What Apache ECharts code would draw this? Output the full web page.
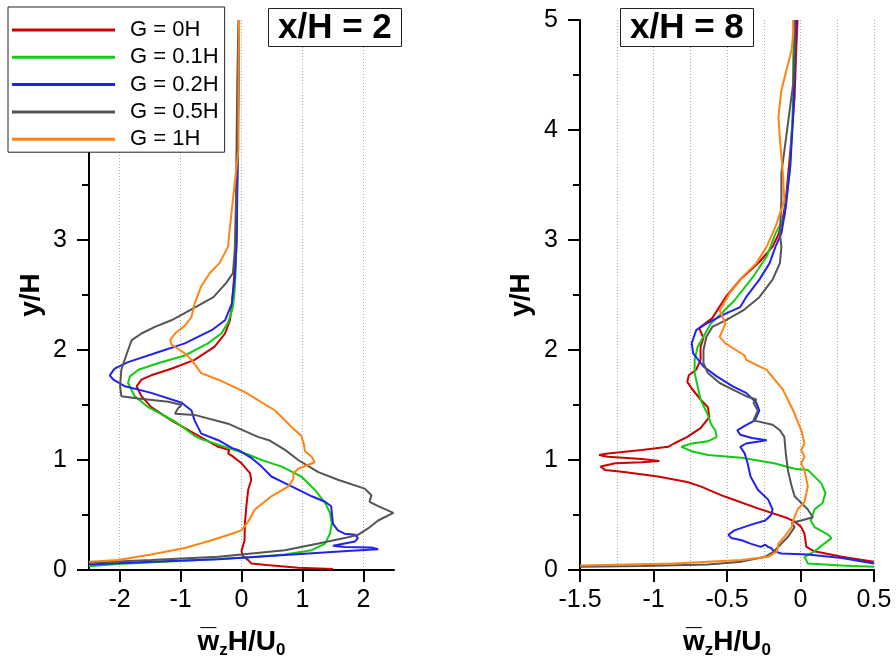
<!DOCTYPE html>
<html>
<head>
<meta charset="utf-8">
<script src="https://cdn.jsdelivr.net/npm/echarts@6/dist/echarts.min.js"></script>
<style>html,body{margin:0;padding:0;background:#fff}#c{width:896px;height:666px}</style>
</head>
<body>
<div id="c"></div>
<script>
// ---- data ----
const seriesNames = ['G = 0H', 'G = 0.1H', 'G = 0.2H', 'G = 0.5H', 'G = 1H'];
const panelTitles = ['x/H = 2', 'x/H = 8'];
const xTicksLeft = [-2, -1, 0, 1, 2];

// x/H = 2 panel : [w_z H/U0, y/H]
const L_G0 = [[1.5,0.01],[0.93,0.02],[0.41,0.045],[0.16,0.06],[0.11,0.09],[0.02,0.13],[0.0,0.17],[0.05,0.27],[0.055,0.42],[0.08,0.58],[0.11,0.73],[0.16,0.82],[0.14,0.88],[0.0,0.97],[-0.16,1.04],[-0.22,1.06],[-0.2,1.09],[-0.38,1.12],[-0.77,1.24],[-1.15,1.36],[-1.48,1.48],[-1.64,1.58],[-1.72,1.67],[-1.64,1.73],[-1.48,1.77],[-1.15,1.83],[-0.77,1.91],[-0.44,2.03],[-0.27,2.15],[-0.19,2.27],[-0.16,2.39],[-0.13,2.6],[-0.09,2.9],[-0.08,3.2],[-0.07,3.6],[-0.06,4.0],[-0.05,4.5],[-0.04,5.0]];
const L_G01 = [[-2.5,0.035],[-2.02,0.055],[-0.93,0.085],[0.16,0.115],[0.71,0.14],[1.15,0.18],[1.37,0.24],[1.45,0.33],[1.48,0.42],[1.45,0.52],[1.37,0.61],[1.2,0.73],[0.98,0.85],[0.66,0.94],[0.33,1.0],[0.11,1.05],[-0.11,1.09],[-0.38,1.14],[-0.66,1.19],[-0.77,1.22],[-1.09,1.35],[-1.53,1.48],[-1.75,1.58],[-1.86,1.7],[-1.83,1.76],[-1.69,1.82],[-1.37,1.88],[-0.93,1.95],[-0.55,2.06],[-0.33,2.15],[-0.22,2.25],[-0.14,2.39],[-0.11,2.55],[-0.09,2.82],[-0.08,3.2],[-0.07,3.6],[-0.06,4.0],[-0.05,4.5],[-0.04,5.0]];
const L_G02 = [[-2.5,0.05],[-1.48,0.076],[-0.38,0.097],[0.71,0.136],[1.8,0.176],[2.24,0.188],[2.13,0.205],[1.69,0.21],[1.5,0.22],[1.52,0.236],[1.86,0.26],[1.91,0.29],[1.86,0.32],[1.69,0.33],[1.58,0.36],[1.5,0.42],[1.48,0.52],[1.47,0.58],[1.37,0.62],[1.15,0.67],[0.93,0.73],[0.71,0.79],[0.49,0.85],[0.33,0.94],[0.16,1.02],[-0.05,1.09],[-0.16,1.11],[-0.38,1.18],[-0.66,1.24],[-0.77,1.36],[-0.82,1.45],[-0.98,1.52],[-1.48,1.61],[-1.91,1.67],[-2.1,1.73],[-2.16,1.77],[-2.08,1.83],[-1.86,1.89],[-1.37,1.98],[-0.93,2.06],[-0.49,2.18],[-0.27,2.27],[-0.16,2.42],[-0.11,2.67],[-0.08,2.97],[-0.07,3.4],[-0.06,3.8],[-0.05,4.3],[-0.04,5.0]];
const L_G05 = [[-2.5,0.067],[-1.48,0.09],[-0.38,0.12],[0.71,0.18],[1.26,0.24],[1.69,0.29],[1.91,0.32],[2.08,0.38],[2.24,0.45],[2.49,0.52],[2.24,0.58],[2.1,0.62],[2.13,0.68],[2.02,0.74],[1.58,0.82],[1.26,0.89],[0.93,1.0],[0.72,1.09],[0.45,1.18],[0.27,1.21],[-0.22,1.33],[-0.77,1.41],[-1.09,1.42],[-1.04,1.47],[-0.98,1.5],[-1.2,1.53],[-1.69,1.56],[-1.97,1.58],[-1.99,1.67],[-1.97,1.82],[-1.86,2.0],[-1.8,2.09],[-1.64,2.15],[-1.42,2.21],[-1.15,2.27],[-0.85,2.36],[-0.46,2.48],[-0.25,2.61],[-0.14,2.7],[-0.11,2.91],[-0.09,3.4],[-0.08,3.9],[-0.07,4.4],[-0.05,5.0]];
const L_G1 = [[-2.5,0.076],[-2.02,0.09],[-1.48,0.14],[-0.93,0.2],[-0.49,0.27],[-0.16,0.33],[0.0,0.36],[0.11,0.44],[0.22,0.55],[0.49,0.67],[0.77,0.76],[0.85,0.83],[0.85,0.88],[0.93,0.92],[1.2,0.98],[1.15,1.03],[1.04,1.08],[1.02,1.15],[0.98,1.22],[0.82,1.3],[0.55,1.45],[0.05,1.62],[-0.38,1.73],[-0.66,1.79],[-0.82,1.91],[-0.93,1.97],[-1.15,2.05],[-1.17,2.09],[-1.09,2.15],[-0.93,2.22],[-0.82,2.3],[-0.77,2.42],[-0.66,2.58],[-0.52,2.7],[-0.36,2.79],[-0.22,2.94],[-0.2,3.06],[-0.16,3.27],[-0.11,3.52],[-0.05,3.82],[-0.05,4.3],[-0.04,5.0]];

// x/H = 8 panel
const R_G0 = [[0.5,0.076],[0.28,0.12],[0.095,0.17],[0.04,0.21],[0.027,0.33],[0.005,0.39],[-0.04,0.44],[-0.086,0.47],[-0.29,0.56],[-0.52,0.67],[-0.68,0.76],[-0.77,0.8],[-0.97,0.85],[-1.2,0.89],[-1.33,0.91],[-1.36,0.94],[-1.26,0.97],[-1.08,0.98],[-0.96,0.99],[-1.08,1.01],[-1.31,1.03],[-1.37,1.045],[-1.31,1.06],[-1.08,1.09],[-0.9,1.12],[-0.86,1.15],[-0.77,1.21],[-0.68,1.29],[-0.62,1.39],[-0.63,1.48],[-0.68,1.55],[-0.74,1.65],[-0.77,1.71],[-0.76,1.77],[-0.71,1.82],[-0.68,1.91],[-0.68,2.03],[-0.66,2.11],[-0.69,2.2],[-0.6,2.29],[-0.51,2.48],[-0.41,2.64],[-0.28,2.8],[-0.19,2.94],[-0.15,3.05],[-0.12,3.2],[-0.1,3.36],[-0.07,3.8],[-0.04,4.3],[-0.03,4.7],[-0.02,5.0]];
const R_G01 = [[0.5,0.03],[0.28,0.04],[0.05,0.06],[0.027,0.12],[0.095,0.17],[0.21,0.29],[0.19,0.32],[0.095,0.39],[0.07,0.45],[0.095,0.55],[0.15,0.61],[0.17,0.7],[0.14,0.79],[0.05,0.91],[-0.04,0.92],[-0.18,0.97],[-0.4,1.02],[-0.63,1.045],[-0.74,1.08],[-0.81,1.12],[-0.74,1.15],[-0.63,1.17],[-0.57,1.21],[-0.58,1.27],[-0.61,1.33],[-0.63,1.41],[-0.68,1.55],[-0.7,1.67],[-0.72,1.79],[-0.72,1.91],[-0.7,2.03],[-0.66,2.12],[-0.61,2.24],[-0.54,2.33],[-0.45,2.45],[-0.32,2.67],[-0.23,2.85],[-0.17,3.06],[-0.11,3.21],[-0.07,3.67],[-0.05,4.27],[-0.05,4.64],[-0.04,5.0]];
const R_G02 = [[0.5,0.06],[0.28,0.11],[0.05,0.14],[-0.13,0.15],[-0.18,0.17],[-0.2,0.2],[-0.22,0.21],[-0.24,0.23],[-0.27,0.21],[-0.34,0.24],[-0.4,0.27],[-0.47,0.29],[-0.49,0.32],[-0.45,0.36],[-0.34,0.41],[-0.24,0.45],[-0.2,0.5],[-0.19,0.55],[-0.22,0.64],[-0.29,0.73],[-0.34,0.85],[-0.36,0.97],[-0.38,1.06],[-0.41,1.12],[-0.37,1.15],[-0.23,1.18],[-0.33,1.2],[-0.41,1.23],[-0.43,1.27],[-0.38,1.31],[-0.31,1.36],[-0.28,1.45],[-0.3,1.52],[-0.37,1.61],[-0.46,1.67],[-0.57,1.76],[-0.66,1.85],[-0.73,1.97],[-0.74,2.06],[-0.71,2.18],[-0.64,2.24],[-0.51,2.33],[-0.41,2.39],[-0.37,2.48],[-0.28,2.64],[-0.21,2.79],[-0.17,2.94],[-0.13,3.06],[-0.1,3.3],[-0.07,3.67],[-0.05,4.12],[-0.04,4.58],[-0.03,5.0]];
const R_G05 = [[-1.5,0.03],[-1.08,0.036],[-0.63,0.05],[-0.4,0.076],[-0.24,0.12],[-0.18,0.17],[-0.13,0.24],[-0.086,0.3],[-0.04,0.39],[-0.06,0.43],[0.005,0.45],[0.084,0.48],[0.05,0.55],[0.005,0.61],[-0.04,0.67],[-0.06,0.76],[-0.086,0.91],[-0.1,1.06],[-0.11,1.21],[-0.14,1.27],[-0.19,1.32],[-0.32,1.36],[-0.29,1.45],[-0.32,1.52],[-0.3,1.55],[-0.37,1.58],[-0.46,1.64],[-0.55,1.7],[-0.63,1.79],[-0.66,1.88],[-0.66,2.0],[-0.64,2.12],[-0.6,2.21],[-0.51,2.27],[-0.39,2.36],[-0.28,2.48],[-0.19,2.64],[-0.14,2.79],[-0.13,2.94],[-0.14,3.06],[-0.13,3.36],[-0.13,3.61],[-0.1,3.91],[-0.05,4.42],[-0.04,4.73],[-0.04,5.0]];
const R_G1 = [[-1.5,0.04],[-0.86,0.06],[-0.4,0.09],[-0.22,0.12],[-0.16,0.17],[-0.15,0.24],[-0.11,0.3],[-0.06,0.39],[-0.05,0.45],[-0.02,0.55],[0.027,0.62],[0.05,0.76],[0.027,0.91],[0.005,0.97],[0.027,1.03],[0.005,1.09],[0.027,1.15],[0.005,1.27],[-0.05,1.45],[-0.12,1.64],[-0.23,1.82],[-0.37,1.91],[-0.38,1.95],[-0.44,2.0],[-0.51,2.06],[-0.55,2.12],[-0.53,2.18],[-0.51,2.24],[-0.53,2.3],[-0.55,2.36],[-0.48,2.52],[-0.39,2.67],[-0.3,2.79],[-0.23,2.94],[-0.19,3.06],[-0.17,3.12],[-0.11,3.36],[-0.12,3.61],[-0.14,3.91],[-0.15,4.12],[-0.13,4.36],[-0.1,4.52],[-0.06,4.73],[-0.05,4.88],[-0.05,5.0]];

const leftData = [L_G0, L_G01, L_G02, L_G05, L_G1];
const rightData = [R_G0, R_G01, R_G02, R_G05, R_G1];
const colors = ['#cc0000', '#11cc11', '#2222ee', '#555555', '#ff8414'];

// ---- chart ----
const FONT = '"Liberation Sans", Arial, sans-serif';
const chart = echarts.init(document.getElementById('c'), null, {renderer: 'canvas'});

const gridSplit = {show: true, lineStyle: {color: '#aaaaaa', type: [1, 2], width: 1}};
const xName = '{w|w\u0305}{s|z}{n|H/U}{s|0}';
const xNameStyle = {
  rich: {
    w: {fontSize: 28, fontWeight: 'bold', fontFamily: FONT, color: '#000'},
    n: {fontSize: 28, fontWeight: 'bold', fontFamily: FONT, color: '#000'},
    s: {fontSize: 17, fontWeight: 'bold', fontFamily: FONT, color: '#000', verticalAlign: 'bottom', padding: [16, 0, 0, 0]}
  }
};

function xAxisCfg(gridIndex, min, max, interval, isLeft) {
  return {
    type: 'value', gridIndex, min, max, interval,
    name: xName, nameLocation: 'middle', nameGap: 56, nameTextStyle: xNameStyle,
    axisLine: {show: true, onZero: false, lineStyle: {color: '#000', width: 2}},
    axisTick: isLeft ? {show: true, length: 12, lineStyle: {color: '#000', width: 2}, customValues: xTicksLeft}
                     : {show: true, length: 12, lineStyle: {color: '#000', width: 2}},
    axisLabel: isLeft ? {fontSize: 25, color: '#000', fontFamily: FONT, margin: 18, customValues: xTicksLeft}
                      : {fontSize: 25, color: '#000', fontFamily: FONT, margin: 18},
    splitLine: gridSplit,
    minorTick: {show: false, splitNumber: 2},
    minorSplitLine: isLeft ? {show: false} : {show: true, lineStyle: {color: '#aaaaaa', type: [1, 2], width: 1}}
  };
}
function yAxisCfg(gridIndex, gap) {
  return {
    type: 'value', gridIndex, min: 0, max: 5, interval: 1,
    name: 'y/H', nameLocation: 'middle', nameGap: gap, nameRotate: 90,
    nameTextStyle: {fontSize: 28, fontWeight: 'bold', fontFamily: FONT, color: '#000'},
    axisLine: {show: true, onZero: false, lineStyle: {color: '#000', width: 2}},
    axisTick: {show: true, length: 12, lineStyle: {color: '#000', width: 2}},
    minorTick: {show: true, splitNumber: 2, length: 7, lineStyle: {color: '#000', width: 2}},
    axisLabel: {fontSize: 25, color: '#000', fontFamily: FONT, margin: 22},
    splitLine: {show: false}
  };
}

const series = [];
[leftData, rightData].forEach((panel, p) => {
  panel.forEach((d, i) => {
    series.push({
      name: seriesNames[i], type: 'line', xAxisIndex: p, yAxisIndex: p,
      data: d, showSymbol: false, symbol: 'none', smooth: false,
      lineStyle: {color: colors[i], width: 2}, itemStyle: {color: colors[i]},
      animation: false, z: 2 + i
    });
  });
});

chart.setOption({
  animation: false,
  backgroundColor: '#fff',
  textStyle: {fontFamily: FONT},
  title: [
    {text: panelTitles[0], left: 268, top: 8, padding: [1, 10, 0, 10], borderColor: '#222', borderWidth: 1, backgroundColor: '#fff',
     textStyle: {fontSize: 35, fontWeight: 'bold', color: '#000', fontFamily: FONT, lineHeight: 38}},
    {text: panelTitles[1], left: 620, top: 8, padding: [1, 10, 0, 10], borderColor: '#222', borderWidth: 1, backgroundColor: '#fff',
     textStyle: {fontSize: 35, fontWeight: 'bold', color: '#000', fontFamily: FONT, lineHeight: 38}}
  ],
  legend: {
    data: seriesNames, orient: 'vertical', left: 8, top: 7,
    backgroundColor: '#fff', borderColor: '#222', borderWidth: 1,
    padding: [12, 6, 2, 4], itemWidth: 103, itemHeight: 3, itemGap: 5.3, icon: 'rect',
    textStyle: {fontSize: 22, lineHeight: 22, color: '#000', fontFamily: FONT, padding: [0, 0, 0, 10]},
    z: 10
  },
  grid: [
    {left: 89, top: 20, width: 305, height: 550},
    {left: 580, top: 20, width: 294, height: 550}
  ],
  xAxis: [xAxisCfg(0, -2.5, 2.5, 0.5, true), xAxisCfg(1, -1.5, 0.5, 0.5, false)],
  yAxis: [yAxisCfg(0, 44), yAxisCfg(1, 45)],
  series
});
</script>
</body>
</html>
